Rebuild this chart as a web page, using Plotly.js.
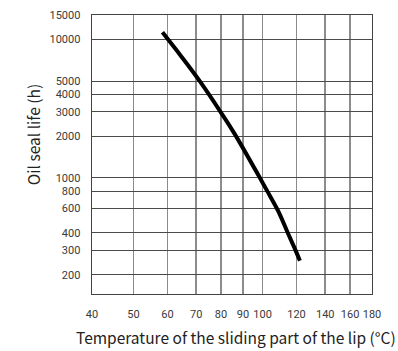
<!DOCTYPE html>
<html>
<head>
<meta charset="utf-8">
<script src="https://cdn.plot.ly/plotly-3.0.1.min.js"></script>
<style>html,body{margin:0;padding:0;background:#fff;}#chart{width:398px;height:351px;}</style>
</head>
<body>
<div id="chart"></div>
<script>
// Temperature (°C) vs oil seal life (h)
const temperature = [58.4, 64.5, 71.5, 80.4, 86.2, 100.0, 104.6, 109.4, 114.6, 118.7, 122.2];
const sealLife    = [11250, 7590, 4950, 2890, 2060, 923, 719, 555, 398, 312, 252];

const xTicks = [40, 50, 60, 70, 80, 90, 100, 120, 140, 160, 180];
const xTickLabels = ['40', '50', '60', '70', '80', '90', '100', '120', '140', '160', '180'];
const yTicks = [200, 300, 400, 600, 800, 1000, 2000, 3000, 4000, 5000, 10000, 15000];
const yTickLabels = ['200', '300', '400', '600', '800', '1000', '2000', '3000', '4000', '5000', '10000', '15000'];

const xTitle = 'Temperature of the sliding part of the lip (°C)';
const yTitle = 'Oil seal life (h)';

const font = '"Noto Sans CJK SC", "Noto Sans", sans-serif';
const tickFont = 'Roboto, "Noto Sans", sans-serif';

const trace = {
  x: temperature,
  y: sealLife,
  type: 'scatter',
  mode: 'lines',
  line: {color: '#000', width: 4, shape: 'spline', smoothing: 1},
  hoverinfo: 'skip'
};

const layout = {
  width: 398, height: 351,
  margin: {l: 92, r: 26, t: 15, b: 57},
  paper_bgcolor: '#fff', plot_bgcolor: '#fff',
  showlegend: false,
  font: {family: font, color: '#333'},
  xaxis: {
    type: 'log',
    range: [Math.log10(40), Math.log10(180)],
    tickmode: 'array', tickvals: xTicks, ticktext: xTickLabels,
    ticks: '', ticklabelstandoff: 9,
    tickfont: {size: 11, color: '#3a3a3a', family: tickFont},
    showgrid: true, gridcolor: '#8c8c8c', gridwidth: 1.6,
    showline: true, linecolor: '#444', linewidth: 1.4, mirror: true,
    zeroline: false
  },
  yaxis: {
    type: 'log',
    range: [Math.log10(145), Math.log10(15000)],
    tickmode: 'array', tickvals: yTicks, ticktext: yTickLabels,
    ticks: '', ticklabelstandoff: 8,
    tickfont: {size: 11, color: '#3a3a3a', family: tickFont},
    showgrid: true, gridcolor: '#4a4a4a', gridwidth: 1,
    showline: true, linecolor: '#444', linewidth: 1.4, mirror: true,
    zeroline: false
  },
  annotations: [{
    text: yTitle, xref: 'paper', yref: 'paper',
    x: -0.21, y: 0.57, xanchor: 'center', yanchor: 'middle',
    textangle: -90, showarrow: false,
    font: {size: 15.5, color: '#222', family: font}
  }, {
    text: xTitle, xref: 'paper', yref: 'paper',
    x: 0.514, y: -0.153, xanchor: 'center', yanchor: 'middle',
    showarrow: false,
    font: {size: 15.5, color: '#222', family: font}
  }]
};

Plotly.newPlot('chart', [trace], layout, {staticPlot: true, displayModeBar: false});
</script>
</body>
</html>
